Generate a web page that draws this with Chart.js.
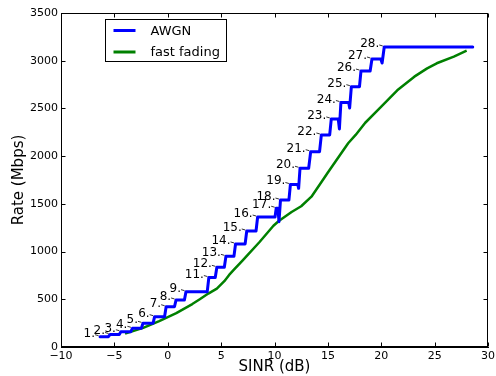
<!DOCTYPE html>
<html>
<head>
<meta charset="utf-8">
<script src="https://cdn.jsdelivr.net/npm/chart.js@4.4.0/dist/chart.umd.min.js"></script>
<style>
  html, body { margin: 0; padding: 0; background: #fff; overflow: hidden; }
  #wrap { width: 498px; height: 376px; }
</style>
</head>
<body>
<div id="wrap"><canvas id="chart"></canvas></div>
<script>
// Axis ticks
const xTicks = [-10, -5, 0, 5, 10, 15, 20, 25, 30];
const yTicks = [0, 500, 1000, 1500, 2000, 2500, 3000, 3500];

// AWGN rate (stepped, with the small dips where modulation changes)
const awgnSinr = [-6.34, -5.56, -5.41, -4.54, -4.39, -3.46, -3.31, -2.47, -2.32, -1.38,
  -1.23, -0.30, -0.15, 0.63, 0.78, 1.56, 1.71, 3.70, 3.85, 4.45,
  4.60, 5.30, 5.45, 6.20, 6.35, 7.25, 7.40, 8.27, 8.42, 10.05,
  10.16, 10.32, 10.42, 10.56, 11.35, 11.49, 12.18, 12.26, 12.39, 13.20,
  13.39, 14.22, 14.39, 15.17, 15.32, 15.97, 16.08, 16.22, 16.95, 17.04,
  17.20, 17.96, 18.10, 18.96, 19.13, 19.96, 20.08, 20.28, 28.57];
const awgnRate = [108, 108, 131, 131, 160, 160, 196, 196, 248, 248,
  318, 318, 422, 422, 493, 493, 580, 580, 728, 728,
  835, 835, 950, 950, 1080, 1080, 1216, 1216, 1362, 1362,
  1454, 1454, 1313, 1540, 1540, 1703, 1703, 1663, 1873, 1873,
  2047, 2047, 2222, 2222, 2390, 2390, 2285, 2562, 2562, 2505,
  2728, 2728, 2892, 2892, 3018, 3018, 2976, 3144, 3144];

// fast fading rate
const fadingSinr = [-4.0, -2.3, -0.8, 0.8, 2.3, 3.0, 3.8, 4.6, 5.3, 5.75,
  6.2, 7.0, 7.45, 8.6, 9.9, 10.4, 11.6, 12.5, 13.46, 14.4,
  15.0, 16.9, 17.6, 18.5, 20.0, 21.5, 23.1, 24.3, 25.2, 26.8, 28.0];
const fadingRate = [140, 200, 272, 355, 450, 500, 560, 612, 690, 755,
  810, 905, 960, 1100, 1270, 1320, 1415, 1475, 1575, 1729,
  1828, 2135, 2222, 2350, 2518, 2690, 2833, 2920, 2973, 3042, 3105];

// MCS labels at the start of each AWGN step
const stepIds = [1, 2, 3, 4, 5, 6, 7, 8, 9, 11, 12, 13, 14, 15, 16, 17, 18, 19, 20, 21, 22, 23, 24, 25, 26, 27, 28];
const stepSinr = [-6.34, -5.41, -4.39, -3.31, -2.32, -1.23, -0.15, 0.78, 1.71, 3.85,
  4.60, 5.45, 6.35, 7.40, 8.42, 10.16, 10.56, 11.49, 12.39, 13.39,
  14.39, 15.32, 16.22, 17.20, 18.10, 19.13, 20.28];
const stepRate = [108, 131, 160, 196, 248, 318, 422, 493, 580, 728,
  835, 950, 1080, 1216, 1362, 1454, 1540, 1703, 1873, 2047,
  2222, 2390, 2562, 2728, 2892, 3018, 3144];

const FONT = "'DejaVu Sans', 'Liberation Sans', sans-serif";
Chart.defaults.font.family = FONT;
Chart.defaults.color = '#000';

const toPoints = (xs, ys) => xs.map((v, i) => ({ x: v, y: ys[i] }));

// frame, inward ticks, step labels and legend box
const decor = {
  id: 'decor',
  afterDatasetsDraw(chart) {
    const { ctx, chartArea: a, scales: { x, y } } = chart;
    const L = Math.round(a.left) + 0.5, R = Math.round(a.right) - 0.5;
    const T = Math.round(a.top) + 0.5, B = Math.round(a.bottom) - 0.5;
    ctx.save();
    ctx.strokeStyle = '#000';
    ctx.lineWidth = 1;
    ctx.strokeRect(L, T, R - L, B - T);
    ctx.beginPath();
    xTicks.forEach(v => {
      const px = Math.round(x.getPixelForValue(v)) + 0.5;
      ctx.moveTo(px, B); ctx.lineTo(px, B - 4);
      ctx.moveTo(px, T); ctx.lineTo(px, T + 4);
    });
    yTicks.forEach(v => {
      const py = Math.round(y.getPixelForValue(v)) + 0.5;
      ctx.moveTo(L, py); ctx.lineTo(L + 4, py);
      ctx.moveTo(R, py); ctx.lineTo(R - 4, py);
    });
    ctx.stroke();

    // step numbers
    ctx.font = '12px ' + FONT;
    ctx.fillStyle = '#000';
    ctx.textAlign = 'right';
    ctx.textBaseline = 'alphabetic';
    ctx.lineWidth = 0.8;
    stepIds.forEach((id, i) => {
      const px = x.getPixelForValue(stepSinr[i]);
      const py = y.getPixelForValue(stepRate[i]);
      ctx.fillText(id + '.', px - 5, py);
      ctx.beginPath();
      ctx.moveTo(px - 5, py - 2);
      ctx.lineTo(px - 1.5, py - 1);
      ctx.stroke();
    });
    ctx.restore();
  },
  afterDraw(chart) {
    const { ctx, chartArea: a } = chart;
    const bx = a.left + 44.5, by = a.top + 6.5, bw = 121, bh = 42;
    ctx.save();
    ctx.fillStyle = '#fff';
    ctx.fillRect(bx, by, bw, bh);
    ctx.strokeStyle = '#000';
    ctx.lineWidth = 1;
    ctx.strokeRect(bx, by, bw, bh);
    ctx.font = '13px ' + FONT;
    ctx.textBaseline = 'middle';
    ctx.textAlign = 'left';
    chart.data.datasets.forEach((ds, i) => {
      const ly = by + 11 + i * 21.5;
      ctx.strokeStyle = ds.borderColor;
      ctx.lineWidth = 3;
      ctx.beginPath();
      ctx.moveTo(bx + 8, ly);
      ctx.lineTo(bx + 30, ly);
      ctx.stroke();
      ctx.fillStyle = '#000';
      ctx.fillText(ds.label, bx + 45, ly + 1);
    });
    ctx.restore();
  }
};

new Chart(document.getElementById('chart'), {
  type: 'scatter',
  data: {
    datasets: [
      {
        label: 'AWGN',
        data: toPoints(awgnSinr, awgnRate),
        showLine: true,
        borderColor: '#0000ff',
        borderWidth: 3,
        pointRadius: 0,
        tension: 0,
        borderJoinStyle: 'round',
        borderCapStyle: 'round'
      },
      {
        label: 'fast fading',
        data: toPoints(fadingSinr, fadingRate),
        showLine: true,
        borderColor: '#008000',
        borderWidth: 2.5,
        pointRadius: 0,
        tension: 0,
        borderJoinStyle: 'round'
      }
    ]
  },
  options: {
    responsive: true,
    maintainAspectRatio: false,
    animation: false,
    layout: { padding: { top: 13, right: 7, left: 0, bottom: 0 } },
    plugins: { legend: { display: false }, tooltip: { enabled: false } },
    scales: {
      x: {
        type: 'linear',
        min: -10, max: 30,
        afterBuildTicks: s => { s.ticks = xTicks.map(v => ({ value: v })); },
        afterFit: s => { s.height = 29; },
        grid: { display: false, drawTicks: false, tickLength: 0 },
        border: { display: true, color: '#000', width: 1 },
        ticks: {
          padding: 3,
          maxRotation: 0,
          font: { size: 11 },
          callback: v => String(v).replace('-', '\u2212')
        },
        title: { display: true, text: 'SINR (dB)', font: { size: 15 }, padding: 0 }
      },
      y: {
        type: 'linear',
        min: 0, max: 3500,
        afterBuildTicks: s => { s.ticks = yTicks.map(v => ({ value: v })); },
        afterFit: s => { s.width = 61; },
        grid: { display: false, drawTicks: false, tickLength: 0 },
        border: { display: true, color: '#000', width: 1 },
        ticks: { padding: 3, font: { size: 11 }, callback: v => String(v) },
        title: { display: true, text: 'Rate (Mbps)', font: { size: 15 }, padding: { top: 10 } }
      }
    }
  },
  plugins: [decor]
});
</script>
</body>
</html>
